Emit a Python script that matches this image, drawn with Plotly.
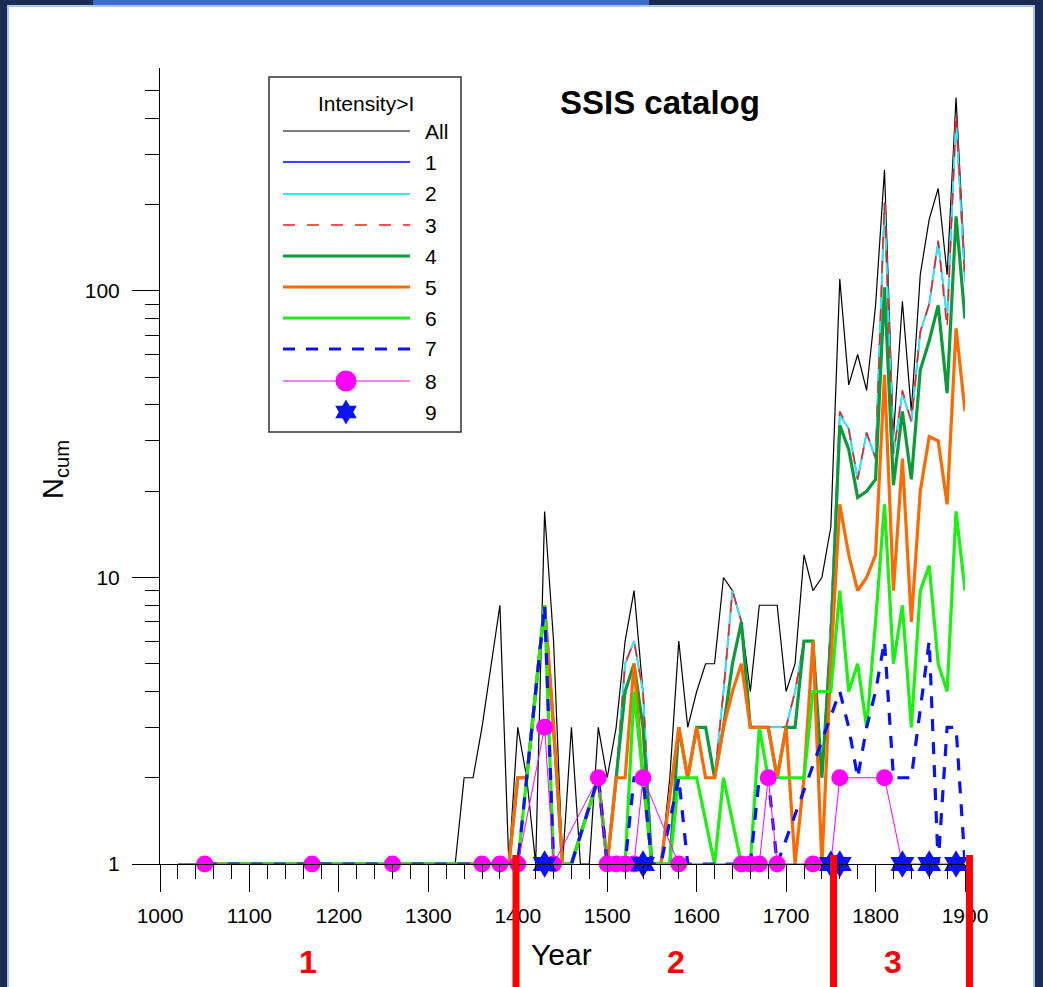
import math
import plotly.graph_objects as go

# ---------------- data ----------------
yrs_all = [1020, 1330, 1340, 1350, 1360, 1370, 1380, 1390, 1400, 1410, 1420, 1430, 1440, 1450,
           1460, 1470, 1480, 1490, 1500, 1510, 1520, 1530, 1540, 1550, 1560, 1570, 1580, 1590,
           1600, 1610, 1620, 1630, 1640, 1650, 1660, 1670, 1680, 1690, 1700, 1710, 1720, 1730,
           1740, 1750, 1760, 1770, 1780, 1790, 1800, 1810, 1820, 1830, 1840, 1850, 1860, 1870,
           1880, 1890, 1900]
n_all = [1, 1, 2, 2, 3, 5, 8, 1, 3, 2, 1, 17, 6, 1,
         3, 1, 1, 3, 2, 3, 6, 9, 4, 1, 1, 2, 6, 3,
         4, 5, 5, 10, 9, 7, 4, 8, 8, 8, 4, 5, 12, 9,
         10, 15, 110, 47, 60, 45, 89, 265, 31, 92, 38, 114, 178, 228,
         114, 473, 118]

yrs_123 = [1050, 1390, 1400, 1410, 1430, 1440, 1450, 1460, 1490, 1500, 1510, 1520, 1530, 1540,
           1550, 1560, 1580, 1590, 1600, 1610, 1620, 1630, 1640, 1650, 1660, 1670, 1680, 1690,
           1700, 1710, 1720, 1730, 1740, 1750, 1760, 1770, 1780, 1790, 1800, 1810, 1820, 1830,
           1840, 1850, 1860, 1870, 1880, 1890, 1900]
n_1 = [1, 1, 2, 2, 8, 3, 1, 1, 2, 1, 2, 5, 6, 4,
       1, 1, 3, 2, 3, 3, 2, 4, 9, 7, 3, 3, 3, 3,
       3, 4, 6, 6, 2, 7, 37, 33, 22, 32, 26, 202, 27, 44,
       35, 72, 90, 148, 80, 400, 108]
n_2 = [1, 1, 2, 2, 8, 3, 1, 1, 2, 1, 2, 5, 6, 4,
       1, 1, 3, 2, 3, 3, 2, 4, 9, 7, 3, 3, 3, 3,
       3, 4, 6, 6, 2, 7, 37, 33, 22, 32, 26, 202, 27, 44,
       35, 72, 90, 148, 80, 400, 108]
n_3 = [1, 1, 2, 2, 8, 3, 1, 1, 2, 1, 2, 5, 6, 4,
       1, 1, 3, 2, 3, 3, 2, 4, 9, 7, 3, 3, 3, 3,
       3, 4, 6, 6, 2, 7, 38, 33, 22, 32, 26, 205, 27, 45,
       35, 72, 90, 150, 74, 420, 108]

yrs_4 = [1050, 1390, 1400, 1410, 1430, 1440, 1450, 1460, 1490, 1500, 1510, 1520, 1530, 1540,
         1550, 1560, 1570, 1580, 1590, 1600, 1610, 1620, 1630, 1640, 1650, 1660, 1670, 1680,
         1690, 1700, 1710, 1720, 1730, 1740, 1750, 1760, 1770, 1780, 1790, 1800, 1810, 1820,
         1830, 1840, 1850, 1860, 1870, 1880, 1890, 1900]
n_4 = [1, 1, 2, 2, 8, 3, 1, 1, 2, 1, 2, 4, 5, 3,
       1, 1, 1, 3, 2, 3, 3, 2, 3, 5, 7, 3, 3, 3,
       2, 3, 3, 6, 6, 2, 6, 34, 28, 19, 20, 22, 103, 21,
       38, 22, 53, 67, 89, 44, 182, 80]

yrs_5 = [1050, 1390, 1400, 1410, 1430, 1440, 1450, 1460, 1490, 1500, 1510, 1520, 1530, 1540,
         1550, 1560, 1580, 1590, 1600, 1610, 1620, 1630, 1640, 1650, 1660, 1670, 1680, 1690,
         1700, 1710, 1720, 1730, 1740, 1750, 1760, 1770, 1780, 1790, 1800, 1810, 1820, 1830,
         1840, 1850, 1860, 1870, 1880, 1890, 1900]
n_5 = [1, 1, 2, 2, 8, 3, 1, 1, 2, 1, 2, 2, 5, 2,
       1, 1, 3, 2, 3, 2, 2, 3, 4, 5, 3, 3, 3, 2,
       3, 1, 2, 6, 1, 5, 18, 12, 9, 10, 12, 51, 9, 26,
       7, 20, 31, 30, 18, 74, 38]

yrs_6 = [1050, 1400, 1430, 1440, 1460, 1490, 1500, 1520, 1530, 1540, 1550, 1570, 1580, 1590,
         1600, 1620, 1630, 1650, 1660, 1670, 1680, 1690, 1700, 1710, 1720, 1730, 1740, 1750,
         1760, 1770, 1780, 1790, 1800, 1810, 1820, 1830, 1840, 1850, 1860, 1870, 1880, 1890,
         1900]
n_6 = [1, 1, 8, 1, 1, 2, 1, 1, 4, 2, 1, 1, 2, 2,
       2, 1, 2, 1, 1, 3, 2, 2, 2, 2, 2, 4, 4, 4,
       9, 4, 5, 3, 7, 18, 5, 8, 3, 9, 11, 5, 4, 17,
       9]

yrs_7 = [1050, 1400, 1430, 1440, 1460, 1490, 1500, 1520, 1530, 1540, 1550, 1560, 1580, 1590,
         1660, 1670, 1680, 1690, 1760, 1770, 1780, 1790, 1800, 1810, 1820, 1840, 1860, 1870,
         1880, 1890, 1900]
n_7 = [1, 1, 8, 1, 1, 2, 1, 1, 2, 2, 1, 1, 2, 1,
       1, 2, 2, 1, 4, 3, 2, 3, 4, 6, 2, 2, 6, 1,
       3, 3, 1]

yrs_8 = [1050, 1170, 1260, 1360, 1380, 1400, 1430, 1440, 1490, 1500, 1510, 1520, 1530, 1540,
         1580, 1650, 1660, 1670, 1680, 1690, 1730, 1750, 1760, 1810, 1830, 1860, 1890]
n_8 = [1, 1, 1, 1, 1, 1, 3, 1, 2, 1, 1, 1, 1, 2,
       1, 1, 1, 1, 2, 1, 1, 1, 2, 2, 1, 1, 1]

yrs_9 = [1430, 1540, 1750, 1760, 1830, 1860, 1890]
n_9 = [1, 1, 1, 1, 1, 1, 1]

legend_labels = ["All", "1", "2", "3", "4", "5", "6", "7", "8", "9"]
period_bounds = [1398, 1753, 1905]
period_labels = ["1", "2", "3"]
period_label_years = [1165, 1577, 1820]

x_ticks = [1000, 1100, 1200, 1300, 1400, 1500, 1600, 1700, 1800, 1900]
x_minor = [1020, 1040, 1060, 1080, 1120, 1140, 1160, 1180, 1220, 1240, 1260, 1280,
           1320, 1340, 1360, 1380, 1420, 1440, 1460, 1480, 1520, 1540, 1560, 1580,
           1620, 1640, 1660, 1680, 1720, 1740, 1760, 1780, 1820, 1840, 1860, 1880]
y_ticks = [1, 10, 100]
y_minor = [2, 3, 4, 5, 6, 7, 8, 9, 20, 30, 40, 50, 60, 70, 80, 90, 200, 300, 400, 500]

# ---------------- layout geometry ----------------
W, H = 1043, 987
L, R, T, B = 160, 78, 68, 123
PW, PH = W - L - R, H - T - B
X0, X1 = 1000, 1900
YMAX = 600


def fx(px):
    return (px - L) / PW


def fy(py):
    return (H - B - py) / PH


def yr_frac(yr):
    return (yr - X0) / (X1 - X0)


FONT = "Liberation Sans, Arial, Helvetica, sans-serif"

styles = [
    dict(color="#000000", width=1.2, dash="solid"),
    dict(color="#0000ff", width=1.4, dash="solid"),
    dict(color="#38e4f2", width=2, dash="solid"),
    dict(color="#ff1a1a", width=1.5, dash="12px,12px"),
    dict(color="#0e9a3a", width=3.2, dash="solid"),
    dict(color="#ff6a00", width=3.2, dash="solid"),
    dict(color="#1cef14", width=3.2, dash="solid"),
    dict(color="#0a14ee", width=3.2, dash="12px,11px"),
    dict(color="#ff00ff", width=1, dash="solid"),
]

series = [
    (yrs_all, n_all), (yrs_123, n_1), (yrs_123, n_2), (yrs_123, n_3),
    (yrs_4, n_4), (yrs_5, n_5), (yrs_6, n_6), (yrs_7, n_7),
]

fig = go.Figure()
for (xs, ys), st, name in zip(series, styles[:8], legend_labels[:8]):
    fig.add_trace(go.Scatter(x=xs, y=ys, mode="lines", name=name, line=st,
                             cliponaxis=False, showlegend=False))

# intensity > 8 : line + markers (markers hidden where a star sits at the same spot)
pink_sizes = [0 if (yv == 1 and xv in yrs_9) else 17 for xv, yv in zip(yrs_8, n_8)]
fig.add_trace(go.Scatter(x=yrs_8, y=n_8, mode="lines+markers", name="8",
                         line=styles[8],
                         marker=dict(color="#ff00ff", size=pink_sizes, opacity=1,
                                     line=dict(width=0)),
                         cliponaxis=False, showlegend=False))
# intensity > 9 : stars only
fig.add_trace(go.Scatter(x=yrs_9, y=n_9, mode="markers", name="9",
                         marker=dict(symbol="hexagram", color="#0a14f0", size=21, opacity=1,
                                     line=dict(width=0)),
                         cliponaxis=False, showlegend=False))

# ---------------- hand-drawn legend and slide frame ----------------
shapes = []
annotations = []
shapes.append(dict(type="rect", xref="paper", yref="paper", x0=fx(8), x1=fx(1034),
                   y0=fy(995), y1=fy(6), fillcolor="white",
                   line=dict(color="#a8c8ee", width=2), layer="below"))
shapes.append(dict(type="rect", xref="paper", yref="paper", x0=fx(93), x1=fx(649),
                   y0=fy(5), y1=fy(-2), fillcolor="#3d6cc4", line=dict(width=0), layer="below"))

shapes.append(dict(type="rect", xref="paper", yref="paper", x0=fx(269), x1=fx(461),
                   y0=fy(432), y1=fy(77), line=dict(color="#333333", width=1.5),
                   fillcolor="rgba(0,0,0,0)"))
annotations.append(dict(text="Intensity>I", x=fx(366), y=fy(104), xref="paper", yref="paper",
                        xanchor="center", yanchor="middle", showarrow=False,
                        font=dict(family=FONT, size=21, color="black")))
rows = [131, 162, 194, 225, 256, 287, 318, 349, 381, 412]
for i, lab in enumerate(legend_labels):
    ry = rows[i]
    if i < 9:
        st = styles[i]
        shapes.append(dict(type="line", xref="paper", yref="paper", x0=fx(283), x1=fx(410),
                           y0=fy(ry), y1=fy(ry),
                           line=dict(color=st["color"], width=st["width"], dash=st["dash"])))
    annotations.append(dict(text=lab, x=fx(423), y=fy(ry), xref="paper", yref="paper",
                            xanchor="left", yanchor="middle", showarrow=False,
                            font=dict(family=FONT, size=21, color="black")))
fig.add_trace(go.Scatter(x=[fx(346)], y=[fy(rows[8])], xaxis="x2", yaxis="y2", mode="markers",
                         marker=dict(color="#ff00ff", size=21, opacity=1), showlegend=False,
                         cliponaxis=False, hoverinfo="skip"))
fig.add_trace(go.Scatter(x=[fx(346)], y=[fy(rows[9])], xaxis="x2", yaxis="y2", mode="markers",
                         marker=dict(symbol="hexagram", color="#0a14f0", size=19, opacity=1),
                         showlegend=False, cliponaxis=False, hoverinfo="skip"))

# period boundary bars and labels
for yb in period_bounds:
    shapes.append(dict(type="line", xref="paper", yref="paper", x0=yr_frac(yb), x1=yr_frac(yb),
                       y0=fy(855), y1=fy(995), line=dict(color="#ff0000", width=7)))
for lab, yl in zip(period_labels, period_label_years):
    annotations.append(dict(text="<b>%s</b>" % lab, x=yr_frac(yl), y=fy(962), xref="paper",
                            yref="paper", xanchor="center", yanchor="middle", showarrow=False,
                            font=dict(family=FONT, size=32, color="#ff0000")))

# titles
annotations.append(dict(text="<b>SSIS catalog</b>", x=fx(660), y=fy(102), xref="paper",
                        yref="paper", xanchor="center", yanchor="middle", showarrow=False,
                        font=dict(family=FONT, size=33, color="black")))
annotations.append(dict(text="Year", x=fx(561), y=fy(954), xref="paper", yref="paper",
                        xanchor="center", yanchor="middle", showarrow=False,
                        font=dict(family=FONT, size=30, color="black")))
annotations.append(dict(text="N<sub>cum</sub>", x=fx(55), y=fy(470), xref="paper", yref="paper",
                        xanchor="center", yanchor="middle", showarrow=False, textangle=-90,
                        font=dict(family=FONT, size=29, color="black")))

fig.update_layout(
    width=W, height=H, autosize=False,
    margin=dict(l=L, r=R, t=T, b=B, pad=0),
    paper_bgcolor="#1b2c53", plot_bgcolor="white",
    showlegend=False,
    font=dict(family=FONT, size=21, color="black"),
    xaxis=dict(range=[X0, X1], tickmode="array", tickvals=x_ticks,
               ticks="outside", ticklen=27, tickwidth=1, tickcolor="black",
               ticklabelstandoff=6,
               showline=True, linecolor="black", linewidth=1,
               showgrid=False, zeroline=False, automargin=False,
               tickfont=dict(family=FONT, size=21, color="black"),
               minor=dict(tickmode="array", tickvals=x_minor, ticks="outside", ticklen=14,
                          tickwidth=1, tickcolor="black", showgrid=False)),
    yaxis=dict(type="log", range=[0, math.log10(YMAX)], tickmode="array", tickvals=y_ticks,
               ticktext=[str(v) for v in y_ticks],
               ticks="outside", ticklen=27, tickwidth=1, tickcolor="black",
               ticklabelstandoff=8,
               showline=True, linecolor="black", linewidth=1,
               showgrid=False, zeroline=False, automargin=False,
               tickfont=dict(family=FONT, size=21, color="black"),
               minor=dict(tickmode="array", tickvals=y_minor, ticks="outside", ticklen=14,
                          tickwidth=1, tickcolor="black", showgrid=False)),
    xaxis2=dict(overlaying="x", anchor="y2", range=[0, 1], visible=False),
    yaxis2=dict(overlaying="y", anchor="x2", range=[0, 1], visible=False),
    shapes=shapes,
    annotations=annotations,
)

fig.write_html("out.html", config={"displayModeBar": False},
               post_script="document.body.style.margin='0px';")
